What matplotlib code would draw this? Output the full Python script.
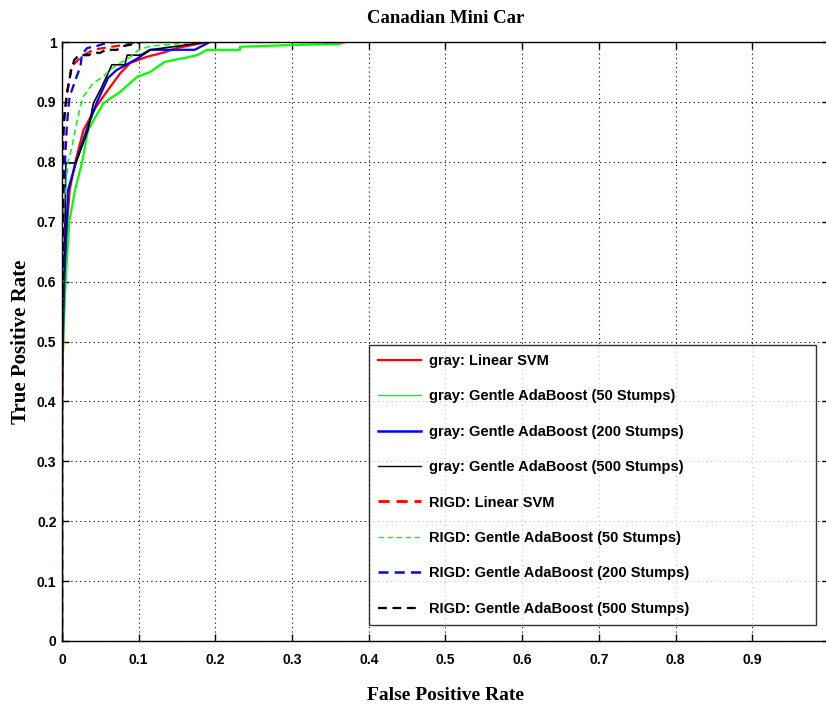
import matplotlib
matplotlib.use("Agg")
import matplotlib.pyplot as plt

title = "Canadian Mini Car"
xlabel = "False Positive Rate"
ylabel = "True Positive Rate"

labels = [
    "gray: Linear SVM",
    "gray: Gentle AdaBoost (50 Stumps)",
    "gray: Gentle AdaBoost (200 Stumps)",
    "gray: Gentle AdaBoost (500 Stumps)",
    "RIGD: Linear SVM",
    "RIGD: Gentle AdaBoost (50 Stumps)",
    "RIGD: Gentle AdaBoost (200 Stumps)",
    "RIGD: Gentle AdaBoost (500 Stumps)",
]

# gray: Linear SVM
fpr_gray_svm = [0, 0, 0.002, 0.004, 0.006, 0.010, 0.017, 0.028, 0.045, 0.060, 0.076, 0.089, 0.110, 0.134, 0.150, 0.170, 0.189]
tpr_gray_svm = [0, 0.37, 0.55, 0.608, 0.686, 0.753, 0.798, 0.853, 0.893, 0.920, 0.948, 0.965, 0.975, 0.983, 0.990, 0.995, 1.0]

# gray: Gentle AdaBoost (50 Stumps)
fpr_gray_50 = [0, 0, 0.003, 0.005, 0.0095, 0.017, 0.026, 0.034, 0.054, 0.076, 0.098, 0.115, 0.134, 0.158, 0.176, 0.189, 0.232, 0.232, 0.300, 0.362, 0.370]
tpr_gray_50 = [0, 0.44, 0.55, 0.608, 0.700, 0.753, 0.798, 0.853, 0.898, 0.917, 0.942, 0.950, 0.967, 0.973, 0.978, 0.987, 0.987, 0.992, 0.995, 0.997, 1.0]

# gray: Gentle AdaBoost (200 Stumps)
fpr_gray_200 = [0, 0, 0.003, 0.008, 0.018, 0.032, 0.045, 0.060, 0.071, 0.099, 0.115, 0.173, 0.193]
tpr_gray_200 = [0, 0.45, 0.608, 0.753, 0.798, 0.853, 0.898, 0.940, 0.953, 0.973, 0.987, 0.987, 1.0]

# gray: Gentle AdaBoost (500 Stumps)
fpr_gray_500 = [0, 0, 0.002, 0.004, 0.005, 0.018, 0.034, 0.041, 0.050, 0.058, 0.065, 0.082, 0.085, 0.102, 0.115, 0.150, 0.189]
tpr_gray_500 = [0, 0.45, 0.608, 0.703, 0.798, 0.798, 0.853, 0.898, 0.920, 0.942, 0.962, 0.962, 0.978, 0.978, 0.987, 0.993, 1.0]

# RIGD: Linear SVM
fpr_rigd_svm = [0, 0, 0.002, 0.002, 0.006, 0.010, 0.012, 0.021, 0.028, 0.041, 0.054, 0.080, 0.100]
tpr_rigd_svm = [0, 0.37, 0.70, 0.870, 0.909, 0.937, 0.959, 0.970, 0.978, 0.987, 0.990, 0.995, 1.0]

# RIGD: Gentle AdaBoost (50 Stumps)
fpr_rigd_50 = [0, 0, 0.002, 0.008, 0.013, 0.019, 0.024, 0.028, 0.041, 0.054, 0.062, 0.076, 0.089, 0.100, 0.115, 0.150, 0.180]
tpr_rigd_50 = [0, 0.45, 0.72, 0.800, 0.825, 0.864, 0.893, 0.909, 0.932, 0.942, 0.953, 0.965, 0.975, 0.987, 0.993, 0.997, 1.0]

# RIGD: Gentle AdaBoost (200 Stumps)
fpr_rigd_200 = [0, 0, 0.002, 0.006, 0.008, 0.010, 0.019, 0.024, 0.026, 0.033, 0.045, 0.054, 0.070]
tpr_rigd_200 = [0, 0.45, 0.75, 0.853, 0.886, 0.909, 0.942, 0.959, 0.980, 0.990, 0.993, 0.997, 1.0]

# RIGD: Gentle AdaBoost (500 Stumps)
fpr_rigd_500 = [0, 0, 0.001, 0.004, 0.007, 0.012, 0.016, 0.022, 0.035, 0.040, 0.050, 0.057, 0.072, 0.079, 0.096, 0.103]
tpr_rigd_500 = [0, 0.45, 0.836, 0.886, 0.920, 0.953, 0.970, 0.978, 0.978, 0.982, 0.982, 0.987, 0.987, 0.993, 0.997, 1.0]

series = [
    (fpr_gray_svm, tpr_gray_svm, "#ff0000", "-", 1.6),
    (fpr_gray_50, tpr_gray_50, "#00ff00", "-", 1.6),
    (fpr_gray_200, tpr_gray_200, "#0000ff", "-", 1.6),
    (fpr_gray_500, tpr_gray_500, "#000000", "-", 1.2),
    (fpr_rigd_svm, tpr_rigd_svm, "#ff0000", "--", 1.6),
    (fpr_rigd_50, tpr_rigd_50, "#00ff00", "--", 1.1),
    (fpr_rigd_200, tpr_rigd_200, "#0000ff", "--", 1.6),
    (fpr_rigd_500, tpr_rigd_500, "#000000", "--", 1.6),
]
legend_lw = [1.6, 1.0, 1.8, 1.0, 2.0, 1.0, 1.8, 1.6]

xticks = [0, 0.1, 0.2, 0.3, 0.4, 0.5, 0.6, 0.7, 0.8, 0.9, 1.0]
xticklabels = ["0", "0.1", "0.2", "0.3", "0.4", "0.5", "0.6", "0.7", "0.8", "0.9", ""]
yticks = [0, 0.1, 0.2, 0.3, 0.4, 0.5, 0.6, 0.7, 0.8, 0.9, 1.0]
yticklabels = ["0", "0.1", "0.2", "0.3", "0.4", "0.5", "0.6", "0.7", "0.8", "0.9", "1"]

fig = plt.figure(figsize=(8.26, 7.06), dpi=100)
ax = fig.add_axes([62 / 826, 1 - 641 / 706, 767 / 826, 599 / 706])

handles = []
for (x, y, c, ls, lw), lab in zip(series, labels):
    ln, = ax.plot(x, y, color=c, linestyle=ls, linewidth=lw, label=lab,
                  dashes=(4, 2.5) if ls == "--" else (None, None))
    handles.append(ln)

ax.set_xlim(0, 1)
ax.set_ylim(0, 1)
ax.set_xticks(xticks)
ax.set_yticks(yticks)
ax.set_xticklabels(xticklabels, fontfamily="Liberation Sans", fontweight="bold", fontsize=10)
ax.set_yticklabels(yticklabels, fontfamily="Liberation Sans", fontweight="bold", fontsize=10)
ax.tick_params(direction="in", top=True, right=True, length=5, width=1)
ax.tick_params(axis="x", pad=9)
ax.tick_params(axis="y", pad=4)
ax.grid(True, linestyle=(0, (1, 3)), color="black", linewidth=0.8)
for s in ax.spines.values():
    s.set_linewidth(1.0)

ax.set_title(title, fontfamily="Liberation Serif", fontweight="bold", fontsize=13.5, pad=14)
ax.set_xlabel(xlabel, fontfamily="Liberation Serif", fontweight="bold", fontsize=14, labelpad=14)
ax.set_ylabel(ylabel, fontfamily="Liberation Serif", fontweight="bold", fontsize=15, labelpad=4)

leg = ax.legend(handles=handles, loc="upper left", bbox_to_anchor=(0.40, 0.494, 0.583, 0.0),
                mode="expand", frameon=True, fancybox=False, edgecolor="black",
                prop={"family": "Liberation Sans", "weight": "bold", "size": 10.5},
                labelspacing=1.47, handlelength=3.0, handletextpad=0.5, borderpad=0.6,
                borderaxespad=0)
leg.get_frame().set_linewidth(1.0)
for h, llw in zip(leg.get_lines(), legend_lw):
    h.set_linewidth(llw)

fig.savefig("out.png", dpi=100)
